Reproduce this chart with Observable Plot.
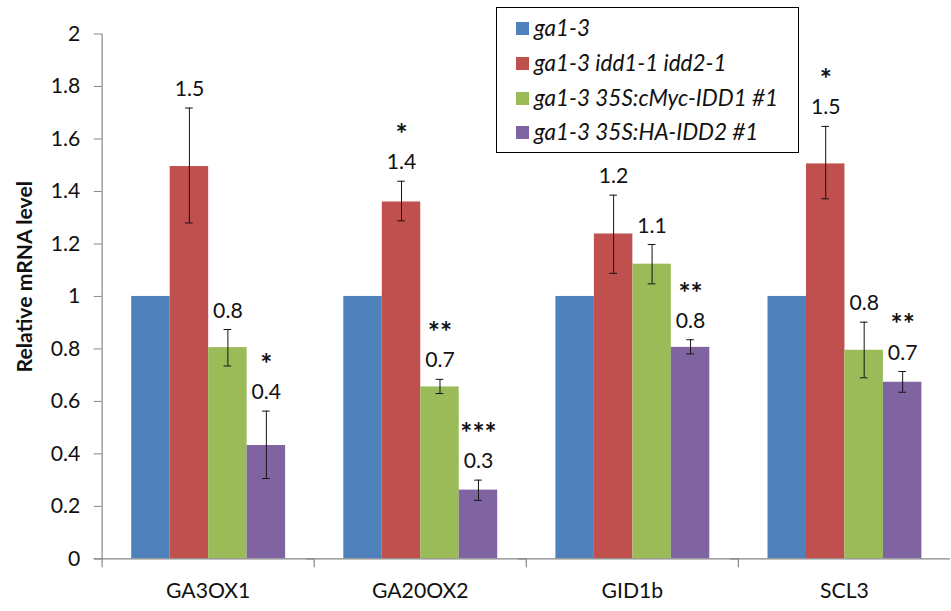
<!DOCTYPE html>
<html><head><meta charset="utf-8">
<script src="https://cdn.jsdelivr.net/npm/d3@7"></script>
<script src="https://cdn.jsdelivr.net/npm/@observablehq/plot@0.6"></script>
<style>
html,body{margin:0;padding:0;background:#fff;overflow:hidden;width:951px;height:611px;}
#wrap{position:relative;width:951px;height:611px;overflow:hidden;font-family:Lato, sans-serif;}
#wrap svg{position:absolute;left:0;top:0;}
#legend{position:absolute;left:496px;top:7px;width:303px;height:146px;border:1.5px solid #000;box-sizing:border-box;background:#fff;}
.item{position:absolute;left:19px;height:26px;line-height:26px;display:flex;align-items:center;font-style:italic;font-size:22.5px;color:#111;white-space:nowrap;}
.sw{width:13px;height:13px;margin-right:5px;flex:none;}
</style></head><body><div id="wrap"><div id="legend"></div></div>
<script>
const genes = ["GA3OX1", "GA20OX2", "GID1b", "SCL3"];
const series = ["ga1-3", "ga1-3 idd1-1 idd2-1", "ga1-3 35S:cMyc-IDD1 #1", "ga1-3 35S:HA-IDD2 #1"];
const colors = ["#4F81BD", "#C0504D", "#9BBB59", "#8064A2"];

// mean values per series, in gene order
const meanBlue   = [1, 1, 1, 1];
const meanRed    = [1.495, 1.36, 1.238, 1.505];
const meanGreen  = [0.805, 0.655, 1.123, 0.795];
const meanPurple = [0.432, 0.262, 0.806, 0.673];
// error bar ends
const loRed    = [1.28, 1.288, 1.088, 1.372];
const hiRed    = [1.718, 1.439, 1.386, 1.648];
const loGreen  = [0.735, 0.63, 1.048, 0.69];
const hiGreen  = [0.874, 0.684, 1.198, 0.902];
const loPurple = [0.306, 0.223, 0.781, 0.635];
const hiPurple = [0.563, 0.30, 0.835, 0.714];
// data labels and significance marks
const labRed    = ["1.5", "1.4", "1.2", "1.5"];
const labGreen  = ["0.8", "0.7", "1.1", "0.8"];
const labPurple = ["0.4", "0.3", "0.8", "0.7"];
const starRed    = ["", "*", "", "*"];
const starGreen  = ["", "**", "", ""];
const starPurple = ["*", "***", "**", "**"];

const yTicks = [0, 0.2, 0.4, 0.6, 0.8, 1, 1.2, 1.4, 1.6, 1.8, 2];
const yTickLabels = ["0", "0.2", "0.4", "0.6", "0.8", "1", "1.2", "1.4", "1.6", "1.8", "2"];
const yTitle = "Relative mRNA level";

const rows = [];
genes.forEach((g, i) => {
  rows.push({gene: g, series: series[0], value: meanBlue[i], lo: null, hi: null, label: "", star: ""});
  rows.push({gene: g, series: series[1], value: meanRed[i], lo: loRed[i], hi: hiRed[i], label: labRed[i], star: starRed[i]});
  rows.push({gene: g, series: series[2], value: meanGreen[i], lo: loGreen[i], hi: hiGreen[i], label: labGreen[i], star: starGreen[i]});
  rows.push({gene: g, series: series[3], value: meanPurple[i], lo: loPurple[i], hi: hiPurple[i], label: labPurple[i], star: starPurple[i]});
});
const errRows = rows.filter(d => d.hi != null);
const starRows = rows.filter(d => d.star);

const axisGray = "#868686";
const chart = Plot.plot({
  width: 964, height: 611,
  marginLeft: 101, marginRight: 0, marginTop: 34, marginBottom: 45,
  style: {fontFamily: "Lato, sans-serif", fontSize: "21px", background: "transparent", color: "#111"},
  fx: {domain: genes, padding: 0, label: null, axis: null},
  x: {domain: series, paddingInner: 0, paddingOuter: 0.75, axis: null},
  y: {domain: [0, 2], axis: null},
  color: {domain: series, range: colors},
  marks: [
    Plot.barY(rows, {fx: "gene", x: "series", y: "value", fill: "series"}),
    Plot.ruleX(errRows, {fx: "gene", x: "series", y1: "lo", y2: "hi", stroke: "#111", strokeWidth: 1}),
    Plot.tickY(errRows, {fx: "gene", x: "series", y: "hi", stroke: "#111", strokeWidth: 1, insetLeft: 15.6, insetRight: 15.6}),
    Plot.tickY(errRows, {fx: "gene", x: "series", y: "lo", stroke: "#111", strokeWidth: 1, insetLeft: 15.6, insetRight: 15.6}),
    Plot.text(errRows, {fx: "gene", x: "series", y: "hi", text: "label", dy: -19, fontSize: 21.5, fill: "#111"}),
    Plot.text(starRows, {fx: "gene", x: "series", y: "hi", text: "star", dy: -47, fontSize: 29, fontWeight: "bold", fill: "#111"}),
    Plot.ruleY([0], {stroke: axisGray, strokeWidth: 1.2, insetLeft: -8}),
    Plot.frame({anchor: "left", stroke: axisGray, strokeWidth: 1.2, insetTop: 532, insetBottom: -8}),
    Plot.frame({anchor: "left", stroke: axisGray, strokeWidth: 1.2, facetAnchor: "left"}),
    Plot.axisY({ticks: yTicks, tickFormat: d => yTickLabels[yTicks.indexOf(d)], tickSize: 8, tickPadding: 14, stroke: axisGray, fill: "#111", fontSize: 21.5, label: null}),
    Plot.axisFx({anchor: "bottom", tickSize: 0, tickPadding: 24, fontSize: 21.5, fill: "#111", label: null}),
    Plot.text([yTitle], {frameAnchor: "left", text: d => d, textAnchor: "middle", rotate: -90, dx: -78, dy: -20, fontWeight: "bold", fontSize: 21.5, fill: "#111", facetAnchor: "left"})
  ]
});
document.getElementById("wrap").prepend(chart);

const legend = document.getElementById("legend");
const rowCenters = [20, 55, 90, 124];
series.forEach((s, i) => {
  const it = document.createElement("div");
  it.className = "item";
  it.style.top = (rowCenters[i] - 13) + "px";
  const sw = document.createElement("span");
  sw.className = "sw";
  sw.style.background = colors[i];
  const tx = document.createElement("span");
  tx.textContent = s;
  it.appendChild(sw); it.appendChild(tx);
  legend.appendChild(it);
});
</script></body></html>
